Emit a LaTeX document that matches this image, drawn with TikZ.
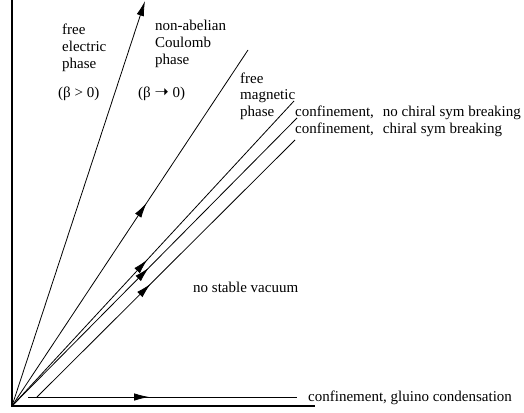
\documentclass[tikz,border=0pt]{standalone}
\usepackage{fontspec}
\setmainfont{Liberation Serif}
\newfontfamily\symb{DejaVu Sans}
\usetikzlibrary{arrows.meta,decorations.markings}
\tikzset{
  axe/.style={line width=2.4pt},
  trait/.style={line width=0.8pt},
  pointe/.style={-{Latex[length=15pt,width=7.5pt]}},
  milieu/.style={postaction={decorate},
    decoration={markings,mark=at position #1 with {\arrow{Latex[length=15pt,width=7.5pt]}}}},
  texte/.style={font=\fontsize{15}{16.5}\selectfont,inner sep=0pt,align=left,anchor=base west}
}
\begin{document}
\begin{tikzpicture}[x=1pt,y=-1pt]
   % Cadre de l'image
   \useasboundingbox (0,0) rectangle (524,412);

   % Origine et extremites des droites
   \coordinate (O) at (12,406);
   \coordinate (hautY) at (12,0);
   \coordinate (finX) at (315,406);
   \coordinate (electrique) at (145,1);
   \coordinate (coulomb) at (248,50);
   \coordinate (sanschiral) at (294,101);
   \coordinate (chiral) at (297,118);
   \coordinate (depvide) at (37,397);
   \coordinate (vide) at (295,140);
   \coordinate (depgluino) at (28,397);
   \coordinate (gluino) at (297,397);

   % Les axes
   \draw[axe] (hautY) -- (O) -- (finX);

   % Les droites issues de l'origine
   \draw[trait,pointe] (O) -- (electrique);
   \draw[trait,milieu=0.57] (O) -- (coulomb);
   \draw[trait,milieu=0.48] (O) -- (sanschiral);
   \draw[trait,milieu=0.48] (O) -- (chiral);
   \draw[trait,milieu=0.44] (depvide) -- (vide);
   \draw[trait,milieu=0.45] (depgluino) -- (gluino);

   % Les phases (ancre sur la derniere ligne)
   \node[texte] (elec) at (62,68) {free\\electric\\phase};
   \node[texte] (betapos) at (58,97) {(β > 0)};
   \node[texte] (coul) at (155,64) {non-abelian\\Coulomb\\phase};
   \node[texte] (betanul) at (138,97) {(β {\symb\fontsize{17}{17}\selectfont ➝} 0)};
   \node[texte] (magn) at (240,116) {free\\magnetic\\phase};
   \node[texte] (nochir) at (295,116) {confinement,\hspace{9pt}no chiral sym breaking};
   \node[texte] (chir) at (295,133) {confinement,\hspace{9pt}chiral sym breaking};
   \node[texte] (vacuum) at (193,292) {no stable vacuum};
   \node[texte] (glu) at (308,401) {confinement, gluino condensation};
\end{tikzpicture}
\end{document}
